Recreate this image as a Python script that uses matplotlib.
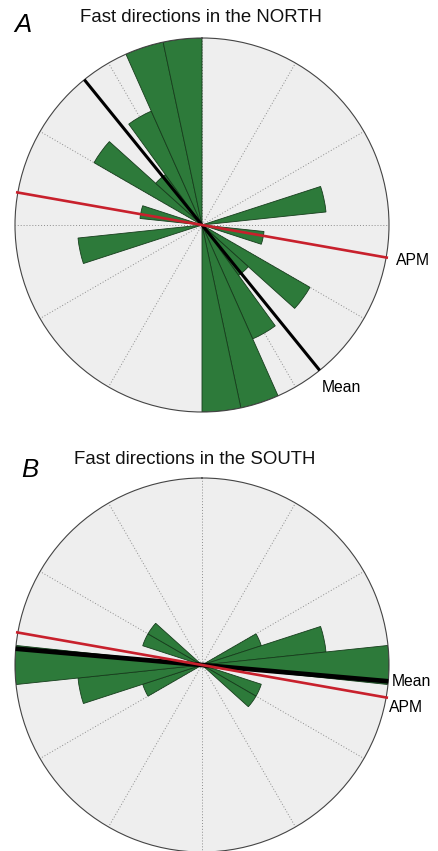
import numpy as np
import matplotlib
matplotlib.use("Agg")
import matplotlib.pyplot as plt

plt.rcParams['font.family'] = ['Liberation Sans', 'DejaVu Sans']

# ---- data ----
bin_width_deg = 12
bin_starts_deg = list(range(0, 180, 12))          # axial data, 0-180 deg
north_counts = [0, 0, 0, 0, 0, 0, 2, 0, 1, 0, 2, 1, 2, 3, 3]
south_counts = [0, 0, 0, 0, 0, 1, 2, 3, 0, 1, 1, 0, 0, 0, 0]
north_mean_deg = 141
south_mean_deg = 95
apm_deg = 100
titles = ["Fast directions in the NORTH", "Fast directions in the SOUTH"]
panel_letters = ["A", "B"]

W, H = 438, 851
fig = plt.figure(figsize=(W / 100, H / 100), dpi=100)

green = '#2d7a3a'
edge = '#163d1c'
face = '#eeeeee'
red = '#c8202c'

R_px = 187
centers_px = [(202, 225), (202, 665)]


def make_ax(cx, cy):
    left = (cx - R_px) / W
    bottom = 1 - (cy + R_px) / H
    ax = fig.add_axes([left, bottom, 2 * R_px / W, 2 * R_px / H], projection='polar')
    ax.set_theta_zero_location('N')
    ax.set_theta_direction(-1)
    ax.set_facecolor(face)
    ax.set_ylim(0, 3)
    ax.set_yticks([])
    ax.set_xticks(np.deg2rad(np.arange(0, 360, 30)))
    ax.set_xticklabels([])
    ax.tick_params(axis='x', length=0, pad=0)
    ax.xaxis.grid(True, linestyle=(0, (1, 2)), color='#8c8c8c', linewidth=0.7)
    ax.set_axisbelow(True)
    ax.spines['polar'].set_color('#444444')
    ax.spines['polar'].set_linewidth(0.8)
    return ax


def draw_rose(ax, counts):
    th, hh = [], []
    for s, c in zip(bin_starts_deg, counts):
        if c > 0:
            ctr = s + bin_width_deg / 2
            th += [ctr, ctr + 180]
            hh += [c, c]
    ax.bar(np.deg2rad(th), hh, width=np.deg2rad(bin_width_deg), bottom=0,
           color=green, edgecolor=edge, linewidth=0.6, zorder=2)


def axial_line(ax, deg, r, color, lw):
    t = np.deg2rad(deg)
    ax.plot([t, t, t + np.pi], [r, 0, r], color=color, lw=lw,
            solid_capstyle='butt', zorder=4, clip_on=False)


axA = make_ax(*centers_px[0])
draw_rose(axA, north_counts)
axial_line(axA, north_mean_deg, 3.0, 'black', 2.2)
axial_line(axA, apm_deg, 3.03, red, 1.9)

axB = make_ax(*centers_px[1])
draw_rose(axB, south_counts)
axial_line(axB, south_mean_deg, 3.0, 'black', 3.4)
axial_line(axB, apm_deg, 3.03, red, 1.9)


def ftext(x, y, s, **kw):
    fig.text(x / W, 1 - y / H, s, **kw)


ftext(80, 22, titles[0], fontsize=13.4, ha='left', va='baseline', color='#111111')
ftext(74, 464, titles[1], fontsize=13.4, ha='left', va='baseline', color='#111111')
ftext(14, 31.5, panel_letters[0], fontsize=18.5, style='italic', ha='left', va='baseline')
ftext(21, 477, panel_letters[1], fontsize=18.5, style='italic', ha='left', va='baseline')

ftext(322, 391.5, "Mean", fontsize=11.3, ha='left', va='baseline')
ftext(396, 265, "APM", fontsize=11.3, ha='left', va='baseline')
ftext(392, 686.5, "Mean", fontsize=11.3, ha='left', va='baseline')
ftext(389, 711.5, "APM", fontsize=11.3, ha='left', va='baseline')

fig.savefig('out.png', dpi=100)
